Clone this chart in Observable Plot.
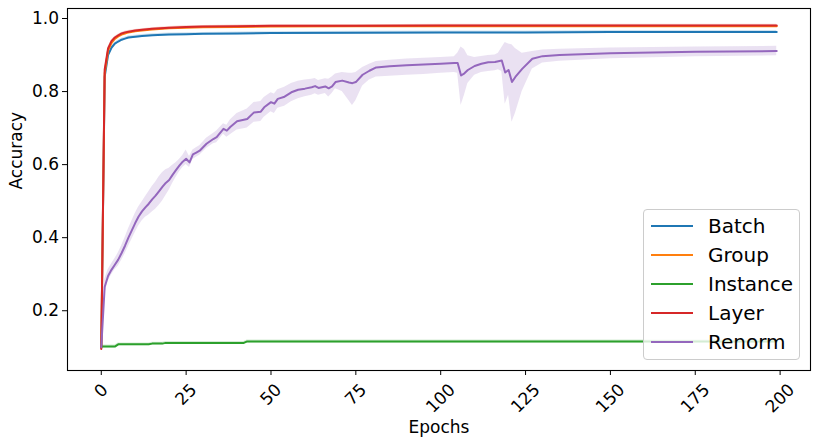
<!DOCTYPE html>
<html>
<head>
<meta charset="utf-8">
<script src="https://cdn.jsdelivr.net/npm/d3@7"></script>
<script src="https://cdn.jsdelivr.net/npm/@observablehq/plot@0.6"></script>
<style>
  body { margin: 0; background: white; font-family: "DejaVu Sans", sans-serif; }
  #wrap { position: relative; width: 818px; height: 445px; }
  #legend { position: absolute; left: 643px; top: 209px; width: 157px; height: 151px;
    border: 1px solid #cccccc; border-radius: 4px; background: rgba(255,255,255,0.8); box-sizing: border-box; }
  .row { position: absolute; left: 0; height: 29px; width: 100%; }
  .sw { position: absolute; left: 7px; width: 42px; height: 2px; top: 13.5px; }
  .lb { position: absolute; left: 64px; top: 0; line-height: 29px; font-size: 20px; color: #000; white-space: nowrap; }
</style>
</head>
<body>
<div id="wrap"></div>
<script>
// ---- data ----
const seriesNames = ["Batch", "Group", "Instance", "Layer", "Renorm"];
const seriesColors = ["#1f77b4", "#ff7f0e", "#2ca02c", "#d62728", "#9467bd"];

const smoothEpochs = [0,1,2,3,4,5,6,7,8,10,12,15,20,25,30,40,50,75,100,125,150,175,199];
const batchAcc = [0.100,0.840,0.900,0.920,0.931,0.937,0.942,0.945,0.948,0.950,0.952,0.954,0.956,0.957,0.958,0.959,0.960,0.961,0.962,0.962,0.963,0.963,0.963];
const groupAcc = [0.098,0.850,0.912,0.933,0.944,0.951,0.956,0.959,0.962,0.965,0.967,0.970,0.973,0.975,0.976,0.977,0.978,0.979,0.979,0.979,0.979,0.979,0.979];
const layerAcc = [0.095,0.860,0.918,0.938,0.948,0.954,0.959,0.962,0.964,0.967,0.969,0.972,0.975,0.977,0.978,0.979,0.980,0.980,0.981,0.981,0.981,0.981,0.981];

const instanceEpochs = [0,4,5,14,15,18,19,42,43,199];
const instanceAcc = [0.102,0.102,0.108,0.108,0.110,0.110,0.112,0.112,0.116,0.116];

const bandHalfWidth = {Batch: 0.004, Group: 0.003, Instance: 0.004, Layer: 0.003};

const renormEpochs = [0,1,2,3,4,5,6,7,8,9,10,11,12,13,14,15,16,17,18,19,20,21,22,23,24,25,26,27,28,29,31,33,34,36,37,38,40,42,43,45,47,48,50,51,52,54,56,58,60,62,63,64,66,67,68,69,71,73,74,75,77,79,81,85,90,95,100,104,105,106,107,108,110,112,114,116,117,118,119,120,121,122,124,127,130,135,150,175,199];
const renormAcc  = [0.100,0.265,0.295,0.312,0.326,0.340,0.358,0.378,0.400,0.420,0.440,0.458,0.472,0.483,0.493,0.505,0.515,0.527,0.539,0.550,0.558,0.572,0.585,0.597,0.608,0.616,0.606,0.628,0.633,0.638,0.657,0.670,0.675,0.698,0.693,0.703,0.719,0.723,0.725,0.743,0.745,0.757,0.771,0.767,0.780,0.786,0.798,0.805,0.808,0.812,0.815,0.810,0.814,0.809,0.814,0.826,0.830,0.825,0.823,0.826,0.846,0.857,0.866,0.869,0.872,0.874,0.876,0.878,0.878,0.844,0.850,0.859,0.870,0.876,0.880,0.881,0.883,0.885,0.852,0.859,0.826,0.840,0.862,0.890,0.897,0.900,0.905,0.909,0.911];
const renormLow  = [0.090,0.245,0.280,0.298,0.312,0.322,0.338,0.356,0.376,0.395,0.414,0.432,0.446,0.456,0.462,0.470,0.478,0.488,0.500,0.515,0.530,0.548,0.565,0.580,0.592,0.600,0.592,0.614,0.620,0.626,0.644,0.657,0.660,0.683,0.675,0.682,0.695,0.698,0.700,0.716,0.718,0.730,0.745,0.740,0.754,0.760,0.772,0.780,0.786,0.790,0.794,0.790,0.795,0.785,0.795,0.808,0.800,0.775,0.762,0.775,0.815,0.832,0.840,0.842,0.845,0.847,0.850,0.852,0.850,0.762,0.790,0.822,0.845,0.852,0.855,0.857,0.860,0.855,0.765,0.790,0.716,0.740,0.800,0.862,0.878,0.883,0.890,0.895,0.898];
const renormHigh = [0.110,0.285,0.312,0.328,0.342,0.358,0.378,0.400,0.424,0.445,0.466,0.484,0.498,0.512,0.526,0.540,0.552,0.566,0.578,0.586,0.590,0.598,0.605,0.614,0.625,0.640,0.622,0.640,0.646,0.652,0.672,0.685,0.692,0.712,0.708,0.722,0.740,0.748,0.752,0.770,0.773,0.784,0.797,0.793,0.805,0.812,0.822,0.828,0.832,0.834,0.836,0.830,0.835,0.834,0.840,0.848,0.852,0.850,0.850,0.852,0.866,0.875,0.882,0.886,0.889,0.891,0.893,0.895,0.905,0.922,0.915,0.898,0.893,0.896,0.899,0.900,0.905,0.920,0.934,0.930,0.928,0.918,0.905,0.910,0.914,0.916,0.919,0.922,0.924];

const xTicks = [0,25,50,75,100,125,150,175,200];
const yTicks = [0.2,0.4,0.6,0.8,1.0];
const xLabel = "Epochs";
const yLabel = "Accuracy";

// ---- build tables ----
function rowsFrom(name, epochs, vals, lo, hi) {
  return epochs.map((e, i) => ({
    series: name, epoch: e, acc: vals[i],
    lo: lo ? lo[i] : vals[i] - bandHalfWidth[name],
    hi: hi ? hi[i] : vals[i] + bandHalfWidth[name]
  }));
}
const tables = {
  Batch: rowsFrom("Batch", smoothEpochs, batchAcc),
  Group: rowsFrom("Group", smoothEpochs, groupAcc),
  Instance: rowsFrom("Instance", instanceEpochs, instanceAcc),
  Layer: rowsFrom("Layer", smoothEpochs, layerAcc),
  Renorm: rowsFrom("Renorm", renormEpochs, renormAcc, renormLow, renormHigh)
};

const marks = [];
seriesNames.forEach((name, i) => {
  const c = seriesColors[i];
  marks.push(Plot.areaY(tables[name], {x: "epoch", y1: "lo", y2: "hi", fill: c, fillOpacity: 0.2}));
  marks.push(Plot.line(tables[name], {x: "epoch", y: "acc", stroke: c, strokeWidth: 2}));
});

// tick label centre offset depends on label length (rotated bbox like matplotlib)
const fs = 17;
[1,2,3].forEach(len => {
  const w = len * 0.636 * fs, h = 1.17 * fs;
  const dy = 9.5 + (w + h) * 0.7071 / 2;
  marks.push(Plot.text(xTicks.filter(d => String(d).length === len), {
    x: d => d, text: d => String(d), frameAnchor: "bottom", dy: dy,
    rotate: -45, textAnchor: "middle", lineAnchor: "middle", fontSize: fs, fill: "black"
  }));
});

const plot = Plot.plot({
  width: 818, height: 445,
  marginLeft: 67, marginRight: 8, marginTop: 8, marginBottom: 75,
  style: {fontFamily: "DejaVu Sans", color: "black", background: "white"},
  x: {domain: [-9.95, 208.95]},
  y: {domain: [0.0364, 1.0274]},
  marks: [
    ...marks,
    Plot.axisX({ticks: xTicks, tickSize: 5, tickFormat: () => "", label: null, stroke: "black"}),
    Plot.axisY({ticks: yTicks, tickSize: 5, tickPadding: 3.5, fontSize: fs, tickFormat: d => d.toFixed(1), label: null, stroke: "black", fill: "black"}),
    Plot.text([xLabel], {frameAnchor: "bottom", dy: 57, fontSize: 17, fill: "black", lineAnchor: "middle"}),
    Plot.text([yLabel], {frameAnchor: "left", dx: -51, rotate: -90, fontSize: 17, fill: "black", lineAnchor: "middle"}),
    Plot.frame({stroke: "black", strokeWidth: 1.1})
  ]
});

const wrap = document.getElementById("wrap");
wrap.appendChild(plot);

// legend overlay
const leg = document.createElement("div");
leg.id = "legend";
seriesNames.forEach((name, i) => {
  const row = document.createElement("div");
  row.className = "row";
  row.style.top = (1.5 + i * 29) + "px";
  const sw = document.createElement("div");
  sw.className = "sw";
  sw.style.background = seriesColors[i];
  const lb = document.createElement("div");
  lb.className = "lb";
  lb.textContent = name;
  row.appendChild(sw); row.appendChild(lb);
  leg.appendChild(row);
});
wrap.appendChild(leg);
</script>
</body>
</html>
